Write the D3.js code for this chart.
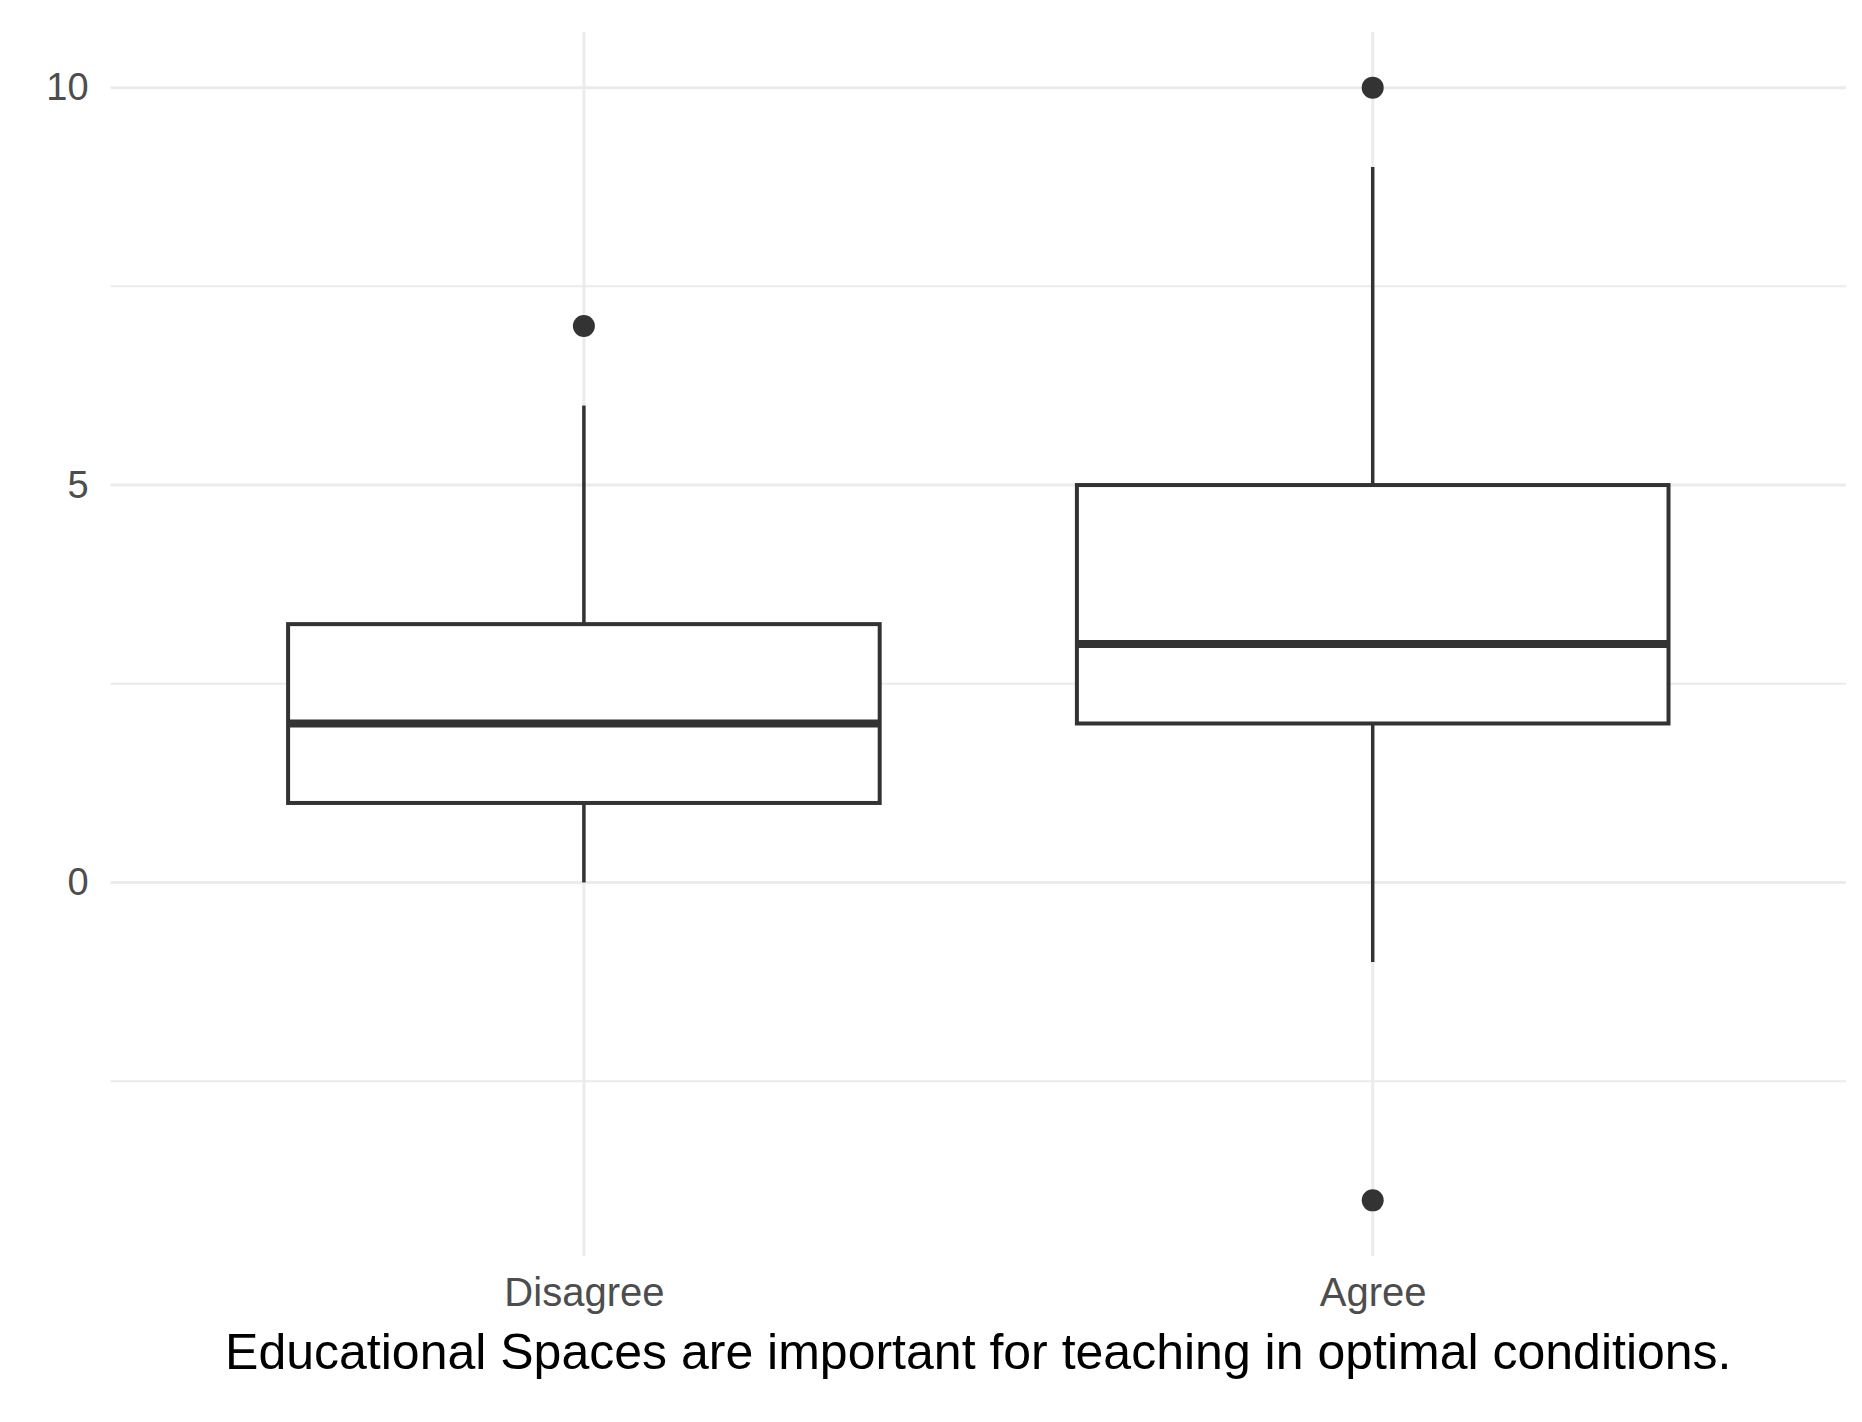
<!DOCTYPE html>
<html>
<head>
<meta charset="utf-8">
<script src="https://cdn.jsdelivr.net/npm/d3@7"></script>
<style>
  body { margin: 0; background: #fff; }
  text { font-family: "Liberation Sans", Arial, sans-serif; }
</style>
</head>
<body>
<svg id="chart"></svg>
<script>
// data
const categories = ['Disagree', 'Agree'];
const whiskerLow = [0, -1];
const q1 = [1, 2];
const median = [2, 3];
const q3 = [3.25, 5];
const whiskerHigh = [6, 9];
const outliers = [[7], [10, -4]];
const yTicks = [0, 5, 10];
const yMinor = [-2.5, 2.5, 7.5];
const xTitle = 'Educational Spaces are important for teaching in optimal conditions.';

const w = 1862;
const h = 1422;
const padL = 110.6, padR = 1846, padT = 32, padB = 1256;

const svg = d3.select('#chart')
  .attr('width', w)
  .attr('height', h);

const boxes = categories.map((c, i) => ({
  cat: c, lo: whiskerLow[i], q1: q1[i], med: median[i], q3: q3[i], hi: whiskerHigh[i], out: outliers[i]
}));

// scales
const xScale = d3.scalePoint()
  .domain(categories)
  .range([padL, padR])
  .padding(0.6);

const yScale = d3.scaleLinear()
  .domain([-4.7, 10.7])
  .range([padB, padT]);

const boxW = xScale.step() * 0.75;

// grid
const grid = svg.append('g');
grid.selectAll('.minor')
  .data(yMinor).enter().append('line')
  .attr('x1', padL).attr('x2', padR)
  .attr('y1', d => yScale(d)).attr('y2', d => yScale(d))
  .attr('stroke', '#ebebeb').attr('stroke-width', 2);
grid.selectAll('.major')
  .data(yTicks).enter().append('line')
  .attr('x1', padL).attr('x2', padR)
  .attr('y1', d => yScale(d)).attr('y2', d => yScale(d))
  .attr('stroke', '#ebebeb').attr('stroke-width', 3);
grid.selectAll('.vmajor')
  .data(categories).enter().append('line')
  .attr('x1', d => xScale(d)).attr('x2', d => xScale(d))
  .attr('y1', padT).attr('y2', padB)
  .attr('stroke', '#ebebeb').attr('stroke-width', 3);

// boxplots
const g = svg.selectAll('.box')
  .data(boxes).enter().append('g');

// whiskers
g.append('line')
  .attr('x1', d => xScale(d.cat)).attr('x2', d => xScale(d.cat))
  .attr('y1', d => yScale(d.q3)).attr('y2', d => yScale(d.hi))
  .attr('stroke', '#333').attr('stroke-width', 3.5);
g.append('line')
  .attr('x1', d => xScale(d.cat)).attr('x2', d => xScale(d.cat))
  .attr('y1', d => yScale(d.q1)).attr('y2', d => yScale(d.lo))
  .attr('stroke', '#333').attr('stroke-width', 3.5);

g.append('rect')
  .attr('x', d => xScale(d.cat) - boxW / 2)
  .attr('width', boxW)
  .attr('y', d => yScale(d.q3))
  .attr('height', d => yScale(d.q1) - yScale(d.q3))
  .attr('fill', '#fff')
  .attr('stroke', '#333')
  .attr('stroke-width', 4);

g.append('line')
  .attr('x1', d => xScale(d.cat) - boxW / 2).attr('x2', d => xScale(d.cat) + boxW / 2)
  .attr('y1', d => yScale(d.med)).attr('y2', d => yScale(d.med))
  .attr('stroke', '#333').attr('stroke-width', 8);

g.selectAll('circle')
  .data(d => d.out.map(v => ({ cat: d.cat, v: v })))
  .enter().append('circle')
  .attr('cx', d => xScale(d.cat))
  .attr('cy', d => yScale(d.v))
  .attr('r', 11)
  .attr('fill', '#333');

// axes text
const yAxis = d3.axisLeft(yScale).tickValues(yTicks).tickSize(0).tickPadding(22);
svg.append('g')
  .attr('transform', 'translate(' + padL + ',0)')
  .call(yAxis)
  .call(a => a.select('.domain').remove())
  .call(a => a.selectAll('text').attr('font-size', 38).attr('fill', '#4d4d4d')
    .style('font-family', '"Liberation Sans", Arial, sans-serif'));

const xAxis = d3.axisBottom(xScale).tickSize(0).tickPadding(22);
svg.append('g')
  .attr('transform', 'translate(0,' + padB + ')')
  .call(xAxis)
  .call(a => a.select('.domain').remove())
  .call(a => a.selectAll('text').attr('font-size', 40).attr('fill', '#4d4d4d')
    .style('font-family', '"Liberation Sans", Arial, sans-serif'));

svg.append('text')
  .attr('x', (padL + padR) / 2)
  .attr('y', 1369)
  .attr('text-anchor', 'middle')
  .attr('font-size', 50)
  .attr('fill', '#000')
  .text(xTitle);
</script>
</body>
</html>
